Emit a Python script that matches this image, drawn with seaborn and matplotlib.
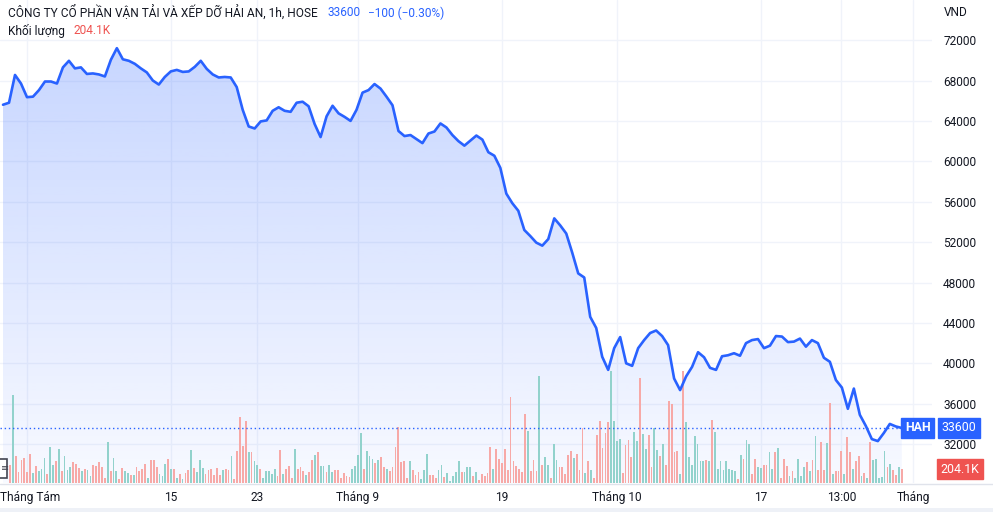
import numpy as np
import matplotlib
matplotlib.use("Agg")
import matplotlib.pyplot as plt
import seaborn as sns
from matplotlib.transforms import blended_transform_factory, ScaledTranslation
from matplotlib.colors import to_rgb
from matplotlib.lines import Line2D
from matplotlib.patches import Rectangle

# ---------------- data ----------------
title = "CÔNG TY CỔ PHẦN VẬN TẢI VÀ XẾP DỠ HẢI AN, 1h, HOSE"
last_price_txt = "33600"
change_txt = "−100 (−0.30%)"
vol_title = "Khối lượng"
last_vol_txt = "204.1K"
ticker = "HAH"
currency = "VND"

price = [65600, 65800, 68550, 67700, 66350, 66400, 67050, 67900, 67900, 67700,
         69300, 69950, 69200, 69300, 68650, 68700, 68600, 68400, 70050, 71200,
         70100, 69950, 69650, 69200, 68800, 68000, 67600, 68350, 68900, 69050,
         68850, 68900, 69350, 69950, 69150, 68600, 68300, 68350, 68300, 67350,
         65100, 63450, 63250, 63950, 64050, 65000, 65350, 65000, 64900, 65800,
         65900, 65450, 63700, 62400, 64450, 65500, 64750, 64400, 64000, 65100,
         66800, 67050, 67650, 67200, 66400, 65550, 63000, 62500, 62600, 62200,
         61800, 62750, 62950, 63750, 63350, 62600, 62000, 61550, 62050, 62550,
         62150, 60900, 60550, 59350, 56800, 55850, 55100, 53200, 52600, 51950,
         51650, 52300, 54350, 53650, 52850, 50950, 48900, 48500, 44600, 43500,
         40650, 39350, 41500, 42600, 40000, 39750, 41500, 42300, 43000, 43250,
         42700, 41800, 38500, 37350, 38700, 39650, 41100, 40600, 39550, 39350,
         40700, 40800, 41000, 40750, 42000, 42300, 42400, 41500, 41750, 42700,
         42650, 42100, 42150, 42450, 41650, 42300, 42000, 40550, 40150, 38350,
         37600, 35500, 37500, 34900, 33800, 32500, 32300, 33100, 34000, 33750,
         33600]

volume_k = [258, 1280, 390, 161, 331, 365, 161, 419, 146, 244,
            171, 204, 361, 131, 526, 258, 317, 492, 171, 390,
            194, 229, 307, 277, 219, 171, 209, 185, 98, 258,
            244, 302, 229, 73, 599, 171, 361, 171, 58, 219,
            171, 146, 112, 121, 229, 171, 209, 277, 73, 331,
            331, 229, 131, 107, 277, 350, 204, 204, 73, 131,
            63, 146, 194, 477, 219, 161, 331, 219, 131, 194,
            204, 121, 219, 112, 185, 204, 194, 390, 63, 463,
            959, 536, 901, 448, 448, 317, 267, 204, 73, 171,
            171, 136, 209, 98, 477, 131, 209, 244, 73, 501,
            204, 229, 180, 112, 156, 340, 404, 448, 244, 253,
            161, 267, 161, 194, 194, 73, 146, 98, 88, 204,
            244, 404, 730, 209, 463, 390, 355, 292, 331, 375,
            229, 209, 180, 234, 521, 813, 302, 317, 73, 317,
            194, 121, 161, 58, 194, 423, 112, 112, 73, 194,
            267, 88, 146, 25, 107, 161, 317, 161, 161, 229,
            229, 98, 156, 48,
            131, 107, 146, 521, 204, 496, 350, 292, 496, 185,
            1256, 317, 244, 204, 161, 1007, 755, 180, 331, 180,
            1562, 258, 375, 258, 73, 569, 331, 229, 229, 131,
            404, 463, 365, 423, 185, 803, 146, 317, 185, 73,
            705, 901, 511, 730, 891, 1635, 901, 618, 642, 146,
            559, 632, 375, 745, 609, 1533, 715, 496, 696, 229,
            803, 477, 390, 569, 267, 1193, 1153, 448, 463, 131,
            1635, 886, 375, 267, 682, 569, 317, 317, 331, 317,
            915, 745, 209, 317, 194, 317, 204, 194, 180, 63,
            404, 355, 623, 569, 136, 355, 229, 219, 267, 258,
            448, 204, 448, 511, 73, 355, 244, 107, 171, 73,
            355, 107, 229, 302, 180, 331, 682, 194, 594, 185,
            584, 1168, 131, 180, 180, 472, 131, 667, 453, 209,
            317, 390, 107, 146, 73, 599, 331, 350, 73, 83,
            463, 229, 277, 194, 117, 229, 204.1]

volume_side = ("rgrrrrrrgr" "gggrggrgrg" "ggrrrgrggr" "rrrrgrggrr" "ggrgrrrrgr"
               "rrgggrgrgr" "grrgrgggrr" "rrrrgrrgrr" "rrrgrggrgg" "gggrrgrrrg"
               "rrrgrrgrgg" "rggrrrrrrg" "gggrgggrgr" "rgrrrrrrrg" "rrrgggrrrg"
               "grgggggrgg" "grgr"
               "rrrrgrrrrr" "rrrrrrgrrr" "grggrggrrr" "rrgrrrgrgr" "rrrrrggggr"
               "rrrggrggrr" "ggrgrrrrrg" "rgggggggrg" "rggggggggr" "grggrrggrr"
               "ggrgrrrgrg" "gggrgrgrrr" "grgrrrgrrg" "rrgrgrgggg" "grgrrgr")

price_ticks = [32000, 36000, 40000, 44000, 48000, 52000, 56000, 60000, 64000, 68000, 72000]
x_tick_bars = [6, 56, 86, 121, 171, 211, 261, 289, 314]
x_tick_labels = ["Tháng Tám", "15", "23", "Tháng 9", "19", "Tháng 10", "17", "13:00", "Tháng"]

# ---------------- style ----------------
sns.set_theme(style="white")
plt.rcParams["font.family"] = ["Roboto", "DejaVu Sans"]

BLUE = "#2962ff"
TXT = "#131722"
GRID = "#f0f3fa"
UP = "#92d2cc"
DOWN = "#f7a9a7"
FS = 8.6

W, H = 993, 512
fig = plt.figure(figsize=(W / 100, H / 100), dpi=100)
fig.patch.set_facecolor("white")

plot_right = 932
plot_bottom = 483
ax = fig.add_axes([0, (H - plot_bottom) / H, plot_right / W, plot_bottom / H])

n = len(volume_k)
bars = np.arange(n)
x_left, x_right = -3.45, 320.5
p_low, p_high = 28152, 75970
price_t = np.linspace(-2.4, n - 1, len(price))

ax.set_xlim(x_left, x_right)
ax.set_ylim(p_low, p_high)

# grid
for p in price_ticks:
    ax.axhline(p, color=GRID, lw=1, zorder=0)
for t in x_tick_bars:
    ax.axvline(t, color=GRID, lw=1, zorder=0)

# gradient area fill
poly = ax.fill_between(price_t, price, p_low, color="none", lw=0)
rgba = np.zeros((256, 1, 4))
rgba[..., :3] = to_rgb(BLUE)
rgba[..., 3] = np.linspace(0.035, 0.26, 256)[:, None]
im = ax.imshow(rgba, extent=[x_left, x_right, p_low, max(price)], origin="lower",
               aspect="auto", zorder=1, interpolation="bilinear")
im.set_clip_path(poly.get_paths()[0], transform=ax.transData)
ax.set_xlim(x_left, x_right)
ax.set_ylim(p_low, p_high)

for s in ax.spines.values():
    s.set_visible(False)
ax.grid(False)

# volume axis
axv = ax.twinx()
axv.set_ylim(0, 7042)
axv.set_xlim(x_left, x_right)
colors = [UP if c == "g" else DOWN for c in volume_side]
axv.bar(bars, volume_k, width=0.62, color=colors, linewidth=0, zorder=2)
axv.axis("off")

# line axis on top
axl = ax.twinx()
axl.set_ylim(p_low, p_high)
axl.set_xlim(x_left, x_right)
sns.lineplot(x=price_t, y=price, ax=axl, color=BLUE, lw=1.9, zorder=5)
axl.axhline(price[-1], color=BLUE, lw=1, ls=(0, (1, 2)), zorder=4)
axl.axis("off")

# ticks (after twinx, which resets the side)
ax.yaxis.tick_right()
ax.yaxis.set_label_position("right")
ax.set_yticks(price_ticks)
ax.set_yticklabels([str(p) for p in price_ticks])
ax.tick_params(axis="y", which="both", left=False, right=False, labelleft=False,
               labelright=True, length=0, pad=8, labelsize=FS, labelcolor=TXT)
ax.set_xticks(x_tick_bars)
ax.set_xticklabels(x_tick_labels)
ax.tick_params(axis="x", length=0, pad=6, labelsize=FS, labelcolor=TXT)
first_lbl = ax.get_xticklabels()[0]
first_lbl.set_transform(first_lbl.get_transform() + ScaledTranslation(2.5 / 100, 0, fig.dpi_scale_trans))

# labels on right scale
tr = blended_transform_factory(axl.transAxes, axl.transData)
axl.text(1 - 1.5 / plot_right, price[-1], ticker, transform=tr, ha="right", va="center",
         color="white", fontsize=FS + 0.3, fontweight="bold", clip_on=False, zorder=10,
         bbox=dict(boxstyle="square,pad=0.28", fc=BLUE, ec=BLUE))
axl.text(1 + 27 / plot_right, price[-1], last_price_txt, transform=tr, ha="center", va="center",
         color="white", fontsize=FS + 0.3, clip_on=False, zorder=10,
         bbox=dict(boxstyle="square,pad=0.28", fc=BLUE, ec=BLUE))
trv = blended_transform_factory(axv.transAxes, axv.transData)
axv.text(1 + 28 / plot_right, volume_k[-1], last_vol_txt, transform=trv, ha="center", va="center",
         color="white", fontsize=FS + 0.3, clip_on=False, zorder=10,
         bbox=dict(boxstyle="square,pad=0.3", fc="#ef5350", ec="#ef5350"))

# header texts
def fx(px):
    return px / W

def fy(py):
    return 1 - py / H

fig.text(fx(8), fy(13), title, color=TXT, fontsize=FS, va="center", ha="left")
fig.text(fx(328), fy(13), last_price_txt, color=BLUE, fontsize=FS, va="center", ha="left")
fig.text(fx(368), fy(13), change_txt, color=BLUE, fontsize=FS, va="center", ha="left")
fig.text(fx(8), fy(31), vol_title, color=TXT, fontsize=FS, va="center", ha="left")
fig.text(fx(74), fy(31), last_vol_txt, color="#ef5350", fontsize=FS, va="center", ha="left")
fig.text(fx(944), fy(13), currency, color=TXT, fontsize=FS, va="center", ha="left")

# bottom separators
fig.add_artist(Line2D([0, 1], [fy(483.5), fy(483.5)], transform=fig.transFigure,
                      color="#e0e3eb", lw=1))
fig.add_artist(Rectangle((0, 0), 1, 4 / H, transform=fig.transFigure,
                         color="#eef1f7", lw=0))
# small pane button at bottom-left
fig.add_artist(Rectangle((fx(-4), fy(478)), 11 / W, 19 / H, transform=fig.transFigure,
                         fc="white", ec="#434651", lw=1.2))
fig.text(fx(1), fy(468), "≡", color="#434651", fontsize=7, va="center", ha="left")

fig.savefig("out.png", dpi=100)
